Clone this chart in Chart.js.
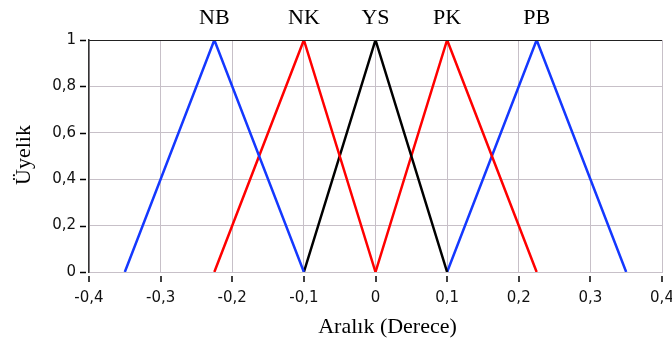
<!DOCTYPE html>
<html>
<head>
<meta charset="utf-8">
<script src="https://cdn.jsdelivr.net/npm/chart.js@4/dist/chart.umd.min.js"></script>
<style>
  html, body { margin: 0; padding: 0; background: #fff; }
  #wrap { width: 672px; height: 342px; }
</style>
</head>
<body>
<div id="wrap"><canvas id="myChart"></canvas></div>
<script>
// Üyelik fonksiyonları (üçgen) - köşe noktaları
const setNames = ["NB", "NK", "YS", "PK", "PB"];
const setX = [
    [-0.35, -0.225, -0.1],
    [-0.225, -0.1, 0],
    [-0.1, 0, 0.1],
    [0, 0.1, 0.225],
    [0.1, 0.225, 0.35]
];
const setY = [0, 1, 0];
const setColors = ["#1438ff", "#ff0000", "#000000", "#ff0000", "#1438ff"];
const xTicks = [-0.4, -0.3, -0.2, -0.1, 0, 0.1, 0.2, 0.3, 0.4];
const yTicks = [0, 0.2, 0.4, 0.6, 0.8, 1];
const xTitle = "Aralık (Derece)";
const yTitle = "Üyelik";

const datasets = setNames.map((name, i) => ({
    label: name,
    data: setX[i].map((x, j) => ({ x: x, y: setY[j] })),
    borderColor: setColors[i],
    borderWidth: 2.5,
    showLine: true,
    pointRadius: 0,
    tension: 0
}));

const fmt = v => String(Math.round(v * 10) / 10).replace(".", ",");

// Küme adları, eksen başlıkları, üst çerçeve ve eksen çentikleri
const extras = {
    id: "extras",
    afterDraw(chart) {
        const c = chart.ctx;
        const xs = chart.scales.x;
        const ys = chart.scales.y;
        const a = chart.chartArea;
        c.save();
        c.font = "22px 'Liberation Serif'";
        c.fillStyle = "#000";
        c.textAlign = "center";
        c.textBaseline = "middle";
        setNames.forEach((n, i) => {
            c.fillText(n, xs.getPixelForValue(setX[i][1]), 18);
        });
        c.fillText(xTitle, a.left + (a.right - a.left) / 2 + 12, 327);
        c.translate(24, 155);
        c.rotate(-Math.PI / 2);
        c.fillText(yTitle, 0, 0);
        c.setTransform(1, 0, 0, 1, 0, 0);
        c.strokeStyle = "#222";
        c.lineWidth = 1;
        c.beginPath();
        c.moveTo(a.left, a.top + 0.5);
        c.lineTo(a.right, a.top + 0.5);
        c.stroke();
        c.strokeStyle = "#000";
        c.lineWidth = 1.5;
        c.beginPath();
        xTicks.forEach(v => {
            const px = Math.round(xs.getPixelForValue(v));
            c.moveTo(px, a.bottom + 4);
            c.lineTo(px, a.bottom + 10);
        });
        yTicks.forEach(v => {
            const py = Math.round(ys.getPixelForValue(v)) + 0.5;
            c.moveTo(a.left - 3, py);
            c.lineTo(a.left - 9, py);
        });
        c.stroke();
        c.restore();
    }
};

const ctx = document.getElementById("myChart").getContext("2d");
new Chart(ctx, {
    type: "scatter",
    data: { datasets: datasets },
    options: {
        responsive: true,
        maintainAspectRatio: false,
        animation: false,
        layout: { padding: { top: 40, right: 10, left: 0, bottom: 0 } },
        plugins: { legend: { display: false }, tooltip: { enabled: false } },
        scales: {
            x: {
                type: "linear",
                min: -0.4,
                max: 0.4,
                afterBuildTicks: s => { s.ticks = xTicks.map(v => ({ value: v })); },
                afterFit: s => { s.height = 70; s.paddingLeft = 0; s.paddingRight = 0; },
                ticks: {
                    callback: v => fmt(v),
                    color: "#111",
                    font: { family: "'DejaVu Sans'", size: 15 },
                    padding: 17
                },
                grid: { color: "#c7c0c8", drawTicks: false, lineWidth: 1 },
                border: { color: "#c7c0c8", width: 1 }
            },
            y: {
                min: 0,
                max: 1,
                afterBuildTicks: s => { s.ticks = yTicks.map(v => ({ value: v })); },
                afterFit: s => { s.width = 89; },
                ticks: {
                    callback: v => fmt(v),
                    color: "#111",
                    font: { family: "'DejaVu Sans'", size: 15 },
                    padding: 13
                },
                grid: { color: "#c7c0c8", drawTicks: false, lineWidth: 1 },
                border: { color: "#333", width: 1.5 }
            }
        }
    },
    plugins: [extras]
});
</script>
</body>
</html>
